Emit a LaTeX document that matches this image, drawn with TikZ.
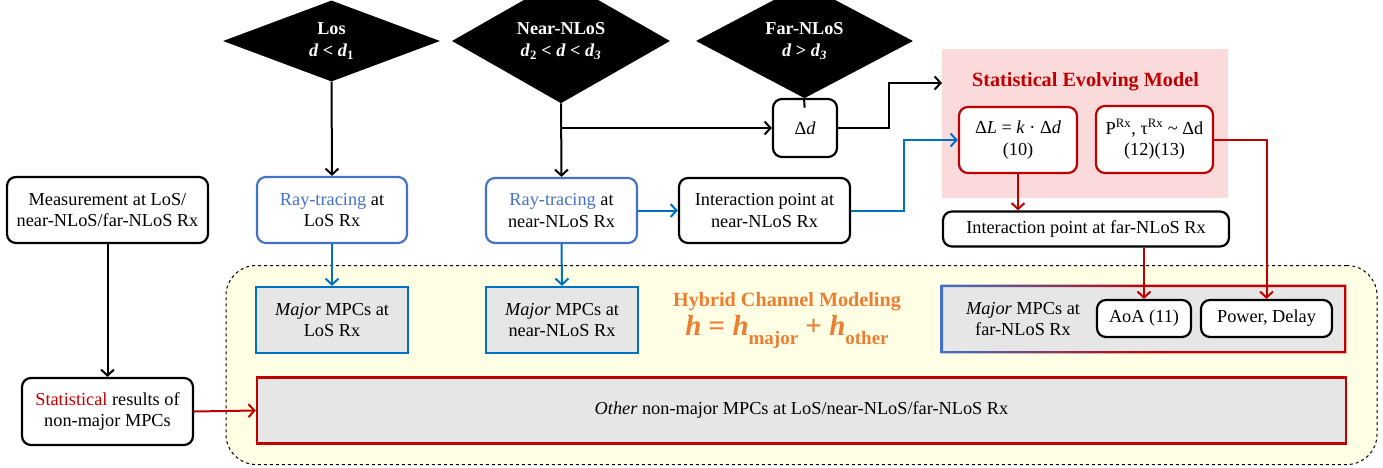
\documentclass[tikz,border=0pt]{standalone}
\usepackage{fontspec}
\setmainfont{Liberation Serif}[Ligatures=TeX]
\usetikzlibrary{shapes.geometric,arrows.meta,calc}
\definecolor{cblue}{HTML}{4472C4}
\definecolor{cblueA}{HTML}{0070C0}
\definecolor{cred}{HTML}{C00000}
\definecolor{cpink}{HTML}{FBDADB}
\definecolor{cyel}{HTML}{FFFFE6}
\definecolor{cgray}{HTML}{E6E6E6}
\definecolor{corange}{HTML}{ED7D31}
\pgfdeclarehorizontalshading{bluered}{100bp}{color(0bp)=(cblue); color(25bp)=(cblue); color(52bp)=(cred); color(100bp)=(cred)}
\begin{document}
\begin{tikzpicture}[x=1pt,y=-1pt,
 every node/.style={font=\rmfamily\fontsize{18.3}{21.5}\selectfont, align=center, inner sep=0pt},
 rbox/.style={draw, line width=2.2pt, rounded corners=9pt, fill=white},
 bbox/.style={rbox, draw=cblue},
 redbox/.style={rbox, draw=cred},
 mbox/.style={draw=cblueA, line width=2.2pt, fill=cgray},
 diam/.style={diamond, fill=black, text=white, font=\rmfamily\fontsize{18.2}{21.5}\selectfont\bfseries},
 arr/.style={-{Straight Barb[length=6pt,width=13pt,line width=2pt]}, line width=2pt},
]
\useasboundingbox (0,0) rectangle (1383,468);
% regions
\node[draw=black, dashed, line width=1pt, fill=cyel, rounded corners=30pt, minimum width=1151pt, minimum height=199pt] (hyb) at (801.5,365) {};
\node[fill=cpink, minimum width=286pt, minimum height=149pt] (sem) at (1085,123.5) {};
\node[text=cred, font=\rmfamily\fontsize{20.2}{23}\selectfont\bfseries] (semt) at (1085.5,82) {Statistical Evolving Model};
\coordinate (semin) at (942,83);

% diamonds
\node[diam, minimum width=217pt, minimum height=73pt] (losd) at (331.5,41) {Los\\\textit{d} < \textit{d}\textsubscript{1}};
\node[diam, minimum width=218pt, minimum height=73pt] (neard) at (561,41) {Near-NLoS\\\textit{d}\textsubscript{2} < \textit{d} < \textit{d}\textsubscript{\textit{3}}};
\node[diam, minimum width=217pt, minimum height=73pt] (fard) at (804.5,41) {Far-NLoS\\\textit{d} > \textit{d}\textsubscript{\textit{3}}};

% boxes
\node[rbox, minimum width=64pt, minimum height=58pt] (dd) at (805,128) {Δ\textit{d}};
\node[redbox, minimum width=118pt, minimum height=66pt] (dl) at (1018,140) {Δ\textit{L} = \textit{k} · Δ\textit{d}\\(10)};
\node[redbox, minimum width=117pt, minimum height=67pt] (pr) at (1154.5,139.5) {P\textsuperscript{Rx}, τ\textsuperscript{Rx} \textasciitilde\ Δd\\(12)(13)};

\node[rbox, minimum width=201pt, minimum height=66pt] (meas) at (107.5,210) {Measurement at LoS/\\near-NLoS/far-NLoS Rx};
\node[bbox, minimum width=150pt, minimum height=66pt] (raylos) at (332,210) {\textcolor{cblue}{Ray-tracing} at\\LoS Rx};
\node[bbox, minimum width=151pt, minimum height=65pt] (raynear) at (561.5,210.5) {\textcolor{cblue}{Ray-tracing} at\\near-NLoS Rx};
\node[rbox, minimum width=171pt, minimum height=65pt] (intnear) at (764.5,210.5) {Interaction point at\\near-NLoS Rx};
\node[rbox, minimum width=286pt, minimum height=35pt] (intfar) at (1086,229) {Interaction point at far-NLoS Rx};

\node[mbox, minimum width=152pt, minimum height=66pt] (majlos) at (332,320) {\textit{Major} MPCs at\\LoS Rx};
\node[mbox, minimum width=152pt, minimum height=66pt] (majnear) at (562,320) {\textit{Major} MPCs at\\near-NLoS Rx};

\node[fill=cgray, minimum width=403pt, minimum height=66pt] (majfar) at (1143.5,319) {};
\shade[shading=bluered, even odd rule] ($(majfar.north west)+(-1.2,-1.2)$) rectangle ($(majfar.south east)+(1.2,1.2)$) ($(majfar.north west)+(1.2,1.2)$) rectangle ($(majfar.south east)+(-1.2,-1.2)$);
\node (majfart) at (1023,319) {\textit{Major} MPCs at\\far-NLoS Rx};
\node[rbox, minimum width=94pt, minimum height=37pt] (aoa) at (1144,318.5) {AoA (11)};
\node[rbox, minimum width=131pt, minimum height=37pt] (pw) at (1266.5,318.5) {Power, Delay};

\node[text=corange, font=\rmfamily\fontsize{20.2}{23}\selectfont\bfseries] (hyt) at (787,302) {Hybrid Channel Modeling};
\node[text=corange, font=\rmfamily\fontsize{29}{34}\selectfont\bfseries] (hyeq) at (787,332) {\textit{h} = \textit{h}\raisebox{-0.28em}{\fontsize{19}{20}\selectfont major} + \textit{h}\raisebox{-0.28em}{\fontsize{19}{20}\selectfont other}};

\node[rbox, minimum width=171pt, minimum height=67pt] (stats) at (107.5,411.5) {\textcolor{cred}{Statistical} results of\\non-major MPCs};
\node[draw=cred, line width=2.4pt, fill=cgray, minimum width=1089pt, minimum height=66pt] (other) at (801.5,410.5) {\textit{Other} non-major MPCs at LoS/near-NLoS/far-NLoS Rx};

% connectors
\draw[arr] (losd.south) -- (raylos.north);
\draw[arr] (neard.south) -- (raynear.north);
\coordinate (br) at (neard.south |- dd.west);
\draw[arr] (br) -- (dd.west);
\draw[arr] (fard.south) -- (dd.north);
\draw[arr] (dd.east) -| (889,105) |- (semin);
\draw[arr, draw=cblueA] (raynear.east) -- (intnear.west);
\draw[arr, draw=cblueA] (intnear.east) -| (904,175) |- (dl.west);
\draw[arr, draw=cblueA] (raylos.south) -- (majlos.north);
\draw[arr, draw=cblueA] (raynear.south) -- (majnear.north);
\draw[arr, draw=cred] (dl.south) -- (intfar.north -| dl.south);
\draw[arr, draw=cred] (intfar.south -| aoa.north) -- (aoa.north);
\draw[arr, draw=cred] (pr.east) -| (pw.north);
\draw[arr] (meas.south) -- (stats.north);
\draw[arr, draw=cred] (stats.east) -- (other.west);
\end{tikzpicture}
\end{document}
